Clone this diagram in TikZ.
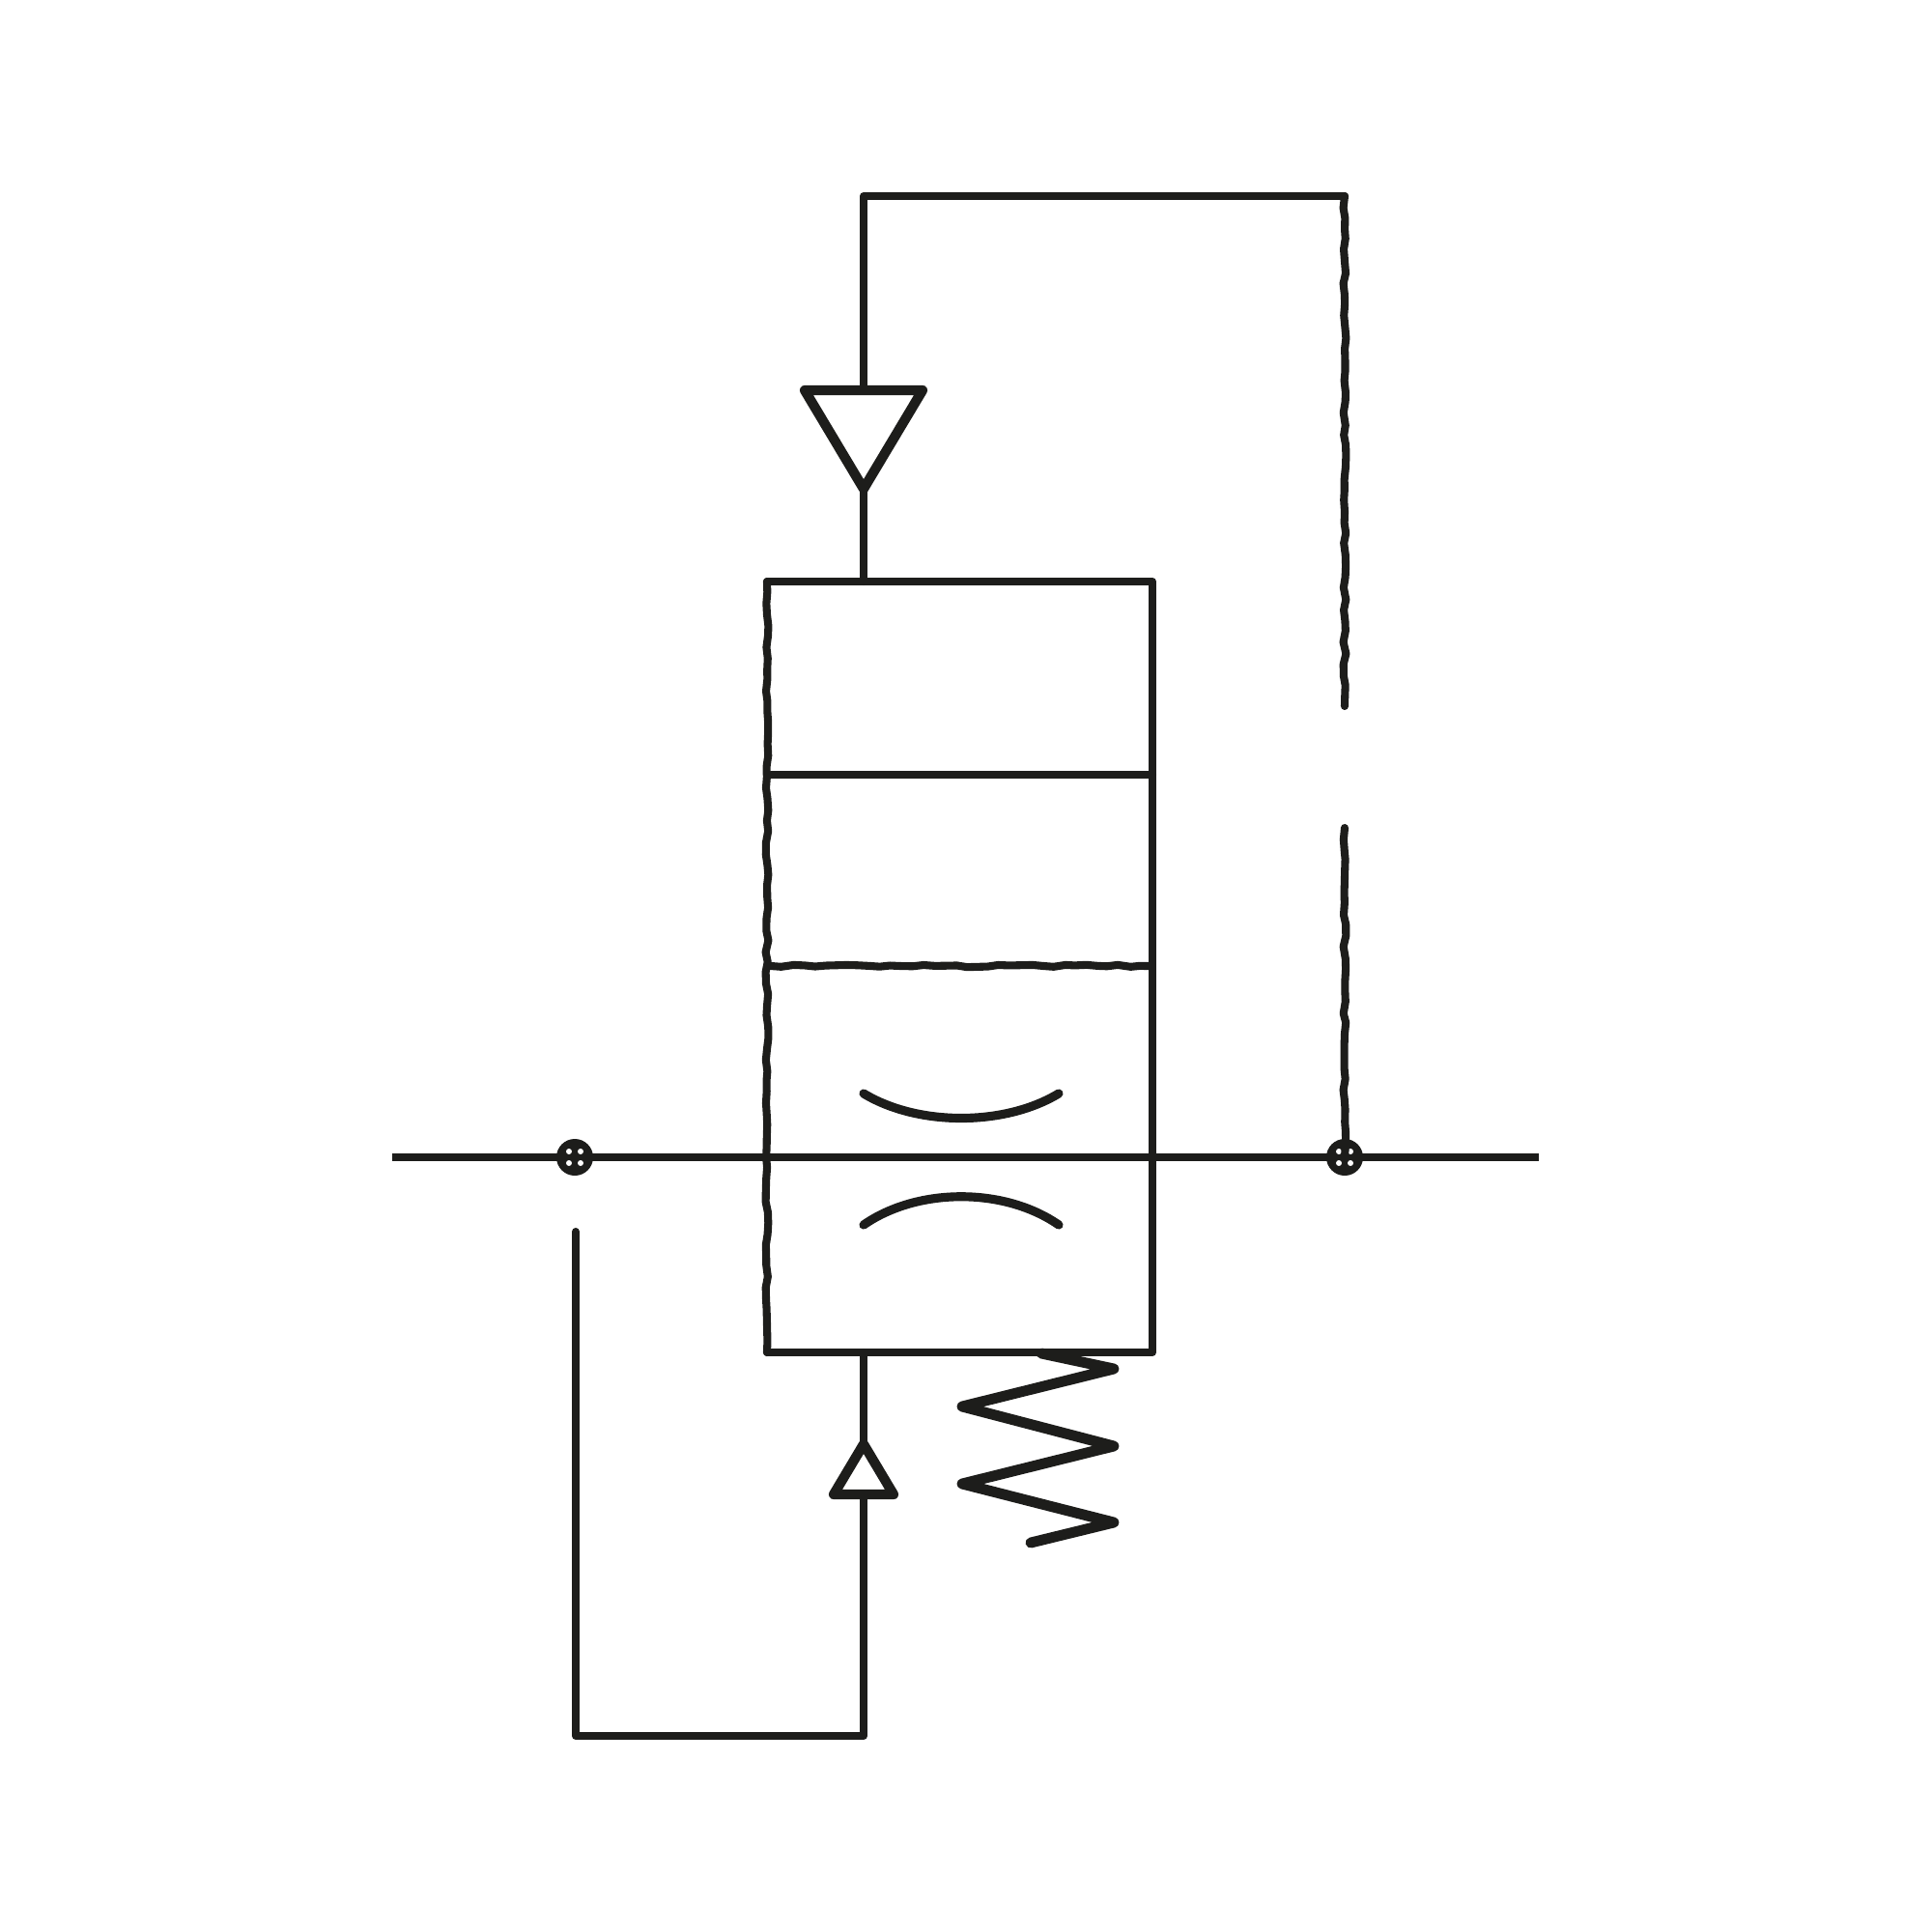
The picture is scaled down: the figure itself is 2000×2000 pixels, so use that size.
\documentclass[tikz,border=0pt]{standalone}
\usetikzlibrary{decorations.pathmorphing}
\tikzset{
  ln/.style={draw=ink,line width=2.3pt,line join=round,line cap=round},
  thick ln/.style={ln,line width=2.9pt},
  rough/.style={ln,decorate,decoration={random steps,segment length=3.2pt,amplitude=0.4pt}},
  junction/.pic={
    \fill[ink] (0,0) circle (19);
    \foreach \a/\b in {-6/-6,6/-6,-6/6,6/6}{\fill[white] (\a,\b) circle (3);}
  }
}
\definecolor{ink}{HTML}{1D1D1B}
\begin{document}
\begin{tikzpicture}[x=0.01cm,y=-0.01cm]
\pgfmathsetseed{7}
\useasboundingbox (0,0) rectangle (2000,2000);
% valve body
\coordinate (tl) at (794,602);
\coordinate (tr) at (1193,602);
\coordinate (bl) at (794,1400);
\coordinate (br) at (1193,1400);
\coordinate (d1l) at (798,802);
\coordinate (d1r) at (1193,802);
\coordinate (d2l) at (798,1000);
\coordinate (d2r) at (1191,1000);
\draw[ln] (bl) -- (br) -- (tr) -- (tl);
\draw[rough] (tl) -- (bl);
\draw[ln] (d1l) -- (d1r);
\draw[rough,decoration={amplitude=0.35pt}] (d2l) -- (d2r);
% main line and junctions
\coordinate (inl) at (406,1198);
\coordinate (outr) at (1593,1198);
\coordinate (jl) at (595,1198);
\coordinate (jr) at (1392,1198);
\draw[ln,line cap=butt] (inl) -- (outr);
\pic at (jl) {junction};
\pic at (jr) {junction};
% flow arcs
\coordinate (a1) at (894,1132);
\coordinate (a2) at (1096,1132);
\coordinate (b1) at (894,1268);
\coordinate (b2) at (1096,1268);
\draw[ln,line width=2.6pt] (a1) .. controls (950,1166) and (1040,1166) .. (a2);
\draw[ln,line width=2.6pt] (b1) .. controls (950,1229) and (1040,1229) .. (b2);
% upper pilot
\coordinate (us) at (894,602);
\coordinate (ua) at (894,506);
\coordinate (ul) at (833,404);
\coordinate (ur) at (955,404);
\coordinate (ut) at (894,404);
\coordinate (uc) at (894,203);
\coordinate (ud) at (1392,203);
\coordinate (ue) at (1392,731);
\coordinate (uf) at (1392,857);
\draw[ln] (us) -- (ua);
\draw[thick ln] (ua) -- (ul) -- (ur) -- cycle;
\draw[ln] (ut) -- (uc) -- (ud);
\draw[rough] (ud) -- (ue);
\draw[rough] (uf) -- (jr);
% lower pilot
\coordinate (ls) at (894,1400);
\coordinate (la) at (894,1495);
\coordinate (lb1) at (863,1547);
\coordinate (lb2) at (925,1547);
\coordinate (lb) at (894,1547);
\coordinate (lc) at (894,1797);
\coordinate (ld) at (596,1797);
\coordinate (le) at (596,1275);
\draw[ln] (ls) -- (la);
\draw[thick ln] (la) -- (lb1) -- (lb2) -- cycle;
\draw[ln] (lb) -- (lc) -- (ld) -- (le);
% spring
\coordinate (s0) at (1078,1401);
\coordinate (s1) at (1153,1417);
\coordinate (s2) at (996,1456);
\coordinate (s3) at (1153,1497);
\coordinate (s4) at (996,1536);
\coordinate (s5) at (1153,1576);
\coordinate (s6) at (1067,1597);
\draw[thick ln,line width=3.1pt] (s0) -- (s1) -- (s2) -- (s3) -- (s4) -- (s5) -- (s6);
\end{tikzpicture}
\end{document}
